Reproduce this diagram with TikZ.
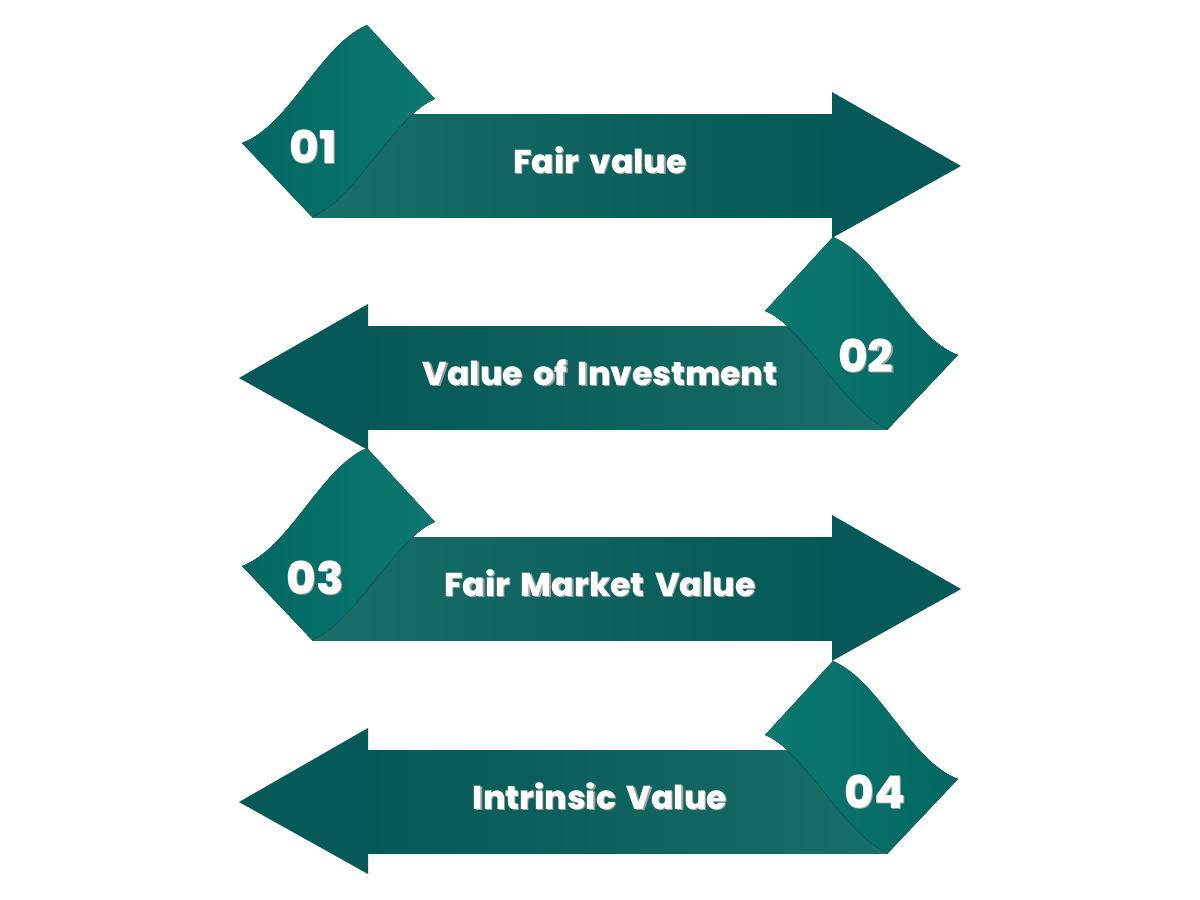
\documentclass[tikz,border=0pt]{standalone}
\usepackage{fontspec}
\setmainfont{Poppins}[BoldFont={Poppins ExtraBold}, WordSpace=1.7]
\usepackage{xcolor}
\usepackage{tikz}

\definecolor{flapteal}{RGB}{2,103,98}
\definecolor{flaplight}{RGB}{12,120,112}
\definecolor{bodylight}{RGB}{24,110,104}
\definecolor{bodydark}{RGB}{4,88,86}
\definecolor{headteal}{RGB}{5,90,89}

\newcommand{\shadowed}[1]{\makebox[0pt][l]{\hspace{0.6pt}\raisebox{-0.6pt}{\textcolor{black!38}{#1}}}#1}

\tikzset{
    flap r/.style={left color=flapteal, middle color=flapteal, right color=flaplight},
    flap l/.style={left color=flaplight, middle color=flapteal, right color=flapteal},
    body r/.style={left color=bodylight, right color=bodydark},
    body l/.style={left color=bodydark, right color=bodylight},
    head/.style={fill=headteal},
    numtext/.style={text=white, font=\bfseries\fontsize{22.5}{22.5}\selectfont, anchor=base},
    labeltext/.style={text=white, font=\bfseries\fontsize{16.5}{16.5}\selectfont, anchor=base}
}

\begin{document}
\begin{tikzpicture}[x=0.5pt, y=-0.5pt]
        \useasboundingbox (0,0) rectangle (1200,900);

        % Ribbons
        \foreach \i/\dy/\fx/\sd/\nx/\ny/\txt in {1/0/1/r/-287/163/Fair value, 2/212/-1/l/-266/160/Value of Investment, 3/423/1/r/-285/171/Fair Market Value, 4/636/-1/l/-275/172/Intrinsic Value} {
            \begin{scope}[shift={(600,\dy)}, xscale=\fx]
                % Body and head
                \fill[body \sd] (-288,114) rectangle (232,217);
                \fill[head] (232,92) -- (361,166) -- (232,238) -- cycle;
                % Flap
                \fill[flap \sd] (-233,25) -- (-165,99) .. controls (-205,115) and (-245,200) .. (-288,217)
                    -- (-358,143) .. controls (-310,125) and (-280,45) .. (-233,25) -- cycle;
                % Texts
                \node[numtext] (num\i) at (\nx,\ny) {\shadowed{0\i}};
                \node[labeltext] (lbl\i) at (0,173) {\shadowed{\txt}};
            \end{scope}
        }
    \end{tikzpicture}
\end{document}
